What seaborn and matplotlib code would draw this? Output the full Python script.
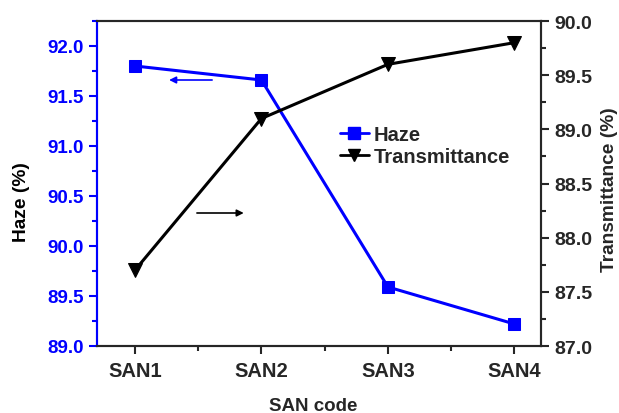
import matplotlib
matplotlib.use("Agg")
import matplotlib.pyplot as plt
from matplotlib.ticker import MultipleLocator
from matplotlib.lines import Line2D
import numpy as np
import pandas as pd
import seaborn as sns

# data
samples = ["SAN1", "SAN2", "SAN3", "SAN4"]
haze = [91.80, 91.66, 89.59, 89.22]
transmittance = [87.7, 89.1, 89.6, 89.8]

sns.set_style("ticks")
plt.rcParams["font.family"] = ["Liberation Sans", "DejaVu Sans"]
plt.rcParams["font.weight"] = "bold"
plt.rcParams["axes.labelweight"] = "bold"

df = pd.DataFrame({"pos": np.arange(len(samples)), "Haze": haze,
                   "Transmittance": transmittance})

blue = "#0000ff"
fig = plt.figure(figsize=(6.19, 4.14), dpi=100)
ax = fig.add_axes([97 / 619, 1 - 347 / 414, (541 - 97) / 619, (347 - 22) / 414])
ax2 = ax.twinx()

sns.lineplot(data=df, x="pos", y="Haze", ax=ax, color=blue, marker="s",
             markersize=9, linewidth=2.2, markeredgecolor=blue)
sns.lineplot(data=df, x="pos", y="Transmittance", ax=ax2, color="black", marker="v",
             markersize=10, linewidth=2.2, markeredgecolor="black")

ax.set_xlim(-0.3, 3.21)
ax.set_ylim(89.0, 92.25)
ax2.set_ylim(87.0, 90.0)
ax.set_xticks(df["pos"])
ax.set_xticklabels(samples)
ax.xaxis.set_minor_locator(MultipleLocator(0.5))
for a in (ax, ax2):
    a.yaxis.set_major_locator(MultipleLocator(0.5))
    a.yaxis.set_minor_locator(MultipleLocator(0.25))
    a.yaxis.set_major_formatter(plt.FormatStrFormatter("%.1f"))
    for s in a.spines.values():
        s.set_linewidth(1.5)
        s.set_visible(True)
ax.spines["left"].set_color(blue)
ax2.spines["left"].set_color(blue)

ax.tick_params(axis="both", which="major", direction="out", length=6, width=1.5,
               labelsize=13.5)
ax.tick_params(axis="x", which="major", labelsize=14.5, pad=5)
ax.tick_params(axis="both", which="minor", direction="out", length=3.5, width=1.5)
ax.tick_params(axis="y", which="both", colors=blue)
ax.tick_params(axis="x", which="both", top=False)
ax2.tick_params(axis="y", which="major", direction="out", length=6, width=1.5,
                labelsize=14)
ax2.tick_params(axis="y", which="minor", direction="out", length=3.5, width=1.5)
for lab in ax.get_xticklabels() + ax.get_yticklabels() + ax2.get_yticklabels():
    lab.set_fontweight("bold")

ax.set_xlabel("SAN code", fontsize=13.5, fontweight="bold")
ax.set_ylabel("Haze (%)", fontsize=13.8, fontweight="bold", color="black")
ax2.set_ylabel("Transmittance (%)", fontsize=13.8, fontweight="bold")
ax.xaxis.set_label_coords(0.486, -0.157)
ax.yaxis.set_label_coords(-0.151, 0.446)
ax2.yaxis.set_label_coords(1.135, 0.483)

# direction arrows
ax.annotate("", xy=(0.27, 91.66), xytext=(0.61, 91.66),
            arrowprops=dict(arrowstyle="-|>", color=blue, lw=1.2, mutation_scale=10,
                            shrinkA=0, shrinkB=0))
ax.annotate("", xy=(0.86, 90.33), xytext=(0.49, 90.33),
            arrowprops=dict(arrowstyle="-|>", color="black", lw=1.2, mutation_scale=10,
                            shrinkA=0, shrinkB=0))

handles = [Line2D([], [], color=blue, marker="s", markersize=8, linewidth=2),
           Line2D([], [], color="black", marker="v", markersize=9, linewidth=2)]
ax.legend(handles, ["Haze", "Transmittance"], loc="upper left",
          bbox_to_anchor=(0.53, 0.705), frameon=False, handlelength=1.4,
          handletextpad=0.25, labelspacing=0.15, borderaxespad=0,
          prop={"weight": "bold", "size": 14.5})

fig.savefig("out.png", dpi=100)
